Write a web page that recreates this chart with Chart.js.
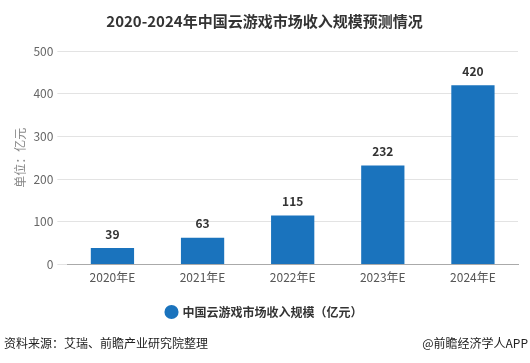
<!DOCTYPE html>
<html>
<head>
<meta charset="utf-8">
<script src="https://cdn.jsdelivr.net/npm/chart.js@4.4.0/dist/chart.umd.min.js"></script>
<style>
  html, body { margin: 0; padding: 0; background: #fff; }
  #wrap { position: relative; width: 530px; height: 363px; }
</style>
</head>
<body>
<div id="wrap"><canvas id="grafica"></canvas></div>
<script>
const etiquetas = ["2020年E", "2021年E", "2022年E", "2023年E", "2024年E"];
const ingresos = [39, 63, 115, 232, 420];
const ticksY = [0, 100, 200, 300, 400, 500];

const fuente = '"Microsoft YaHei", "Noto Sans CJK SC", sans-serif';

// etiquetas de valor encima de cada barra + pie de página
const extras = {
    id: 'extras',
    afterDatasetsDraw(chart) {
        const ctx = chart.ctx;
        const meta = chart.getDatasetMeta(0);
        ctx.save();
        ctx.font = 'bold 12px ' + fuente;
        ctx.fillStyle = '#333';
        ctx.textAlign = 'center';
        ctx.textBaseline = 'bottom';
        meta.data.forEach((barra, i) => {
            ctx.fillText(String(ingresos[i]), barra.x, barra.y - 8);
        });
        ctx.font = '12px ' + fuente;
        ctx.fillStyle = '#222';
        ctx.textBaseline = 'middle';
        ctx.textAlign = 'left';
        ctx.fillText('资料来源：艾瑞、前瞻产业研究院整理', 4, 343);
        ctx.textAlign = 'right';
        ctx.fillText('@前瞻经济学人APP', 528, 343);
        ctx.restore();
    }
};

new Chart(document.querySelector('#grafica'), {
    type: 'bar',
    data: {
        labels: etiquetas,
        datasets: [{
            label: '中国云游戏市场收入规模（亿元）',
            data: ingresos,
            backgroundColor: '#1a73bd',
            barPercentage: 0.48,
            categoryPercentage: 1
        }]
    },
    options: {
        responsive: true,
        maintainAspectRatio: false,
        animation: false,
        layout: { padding: { left: 11, right: 12, top: 0, bottom: 35 } },
        plugins: {
            title: {
                display: true,
                text: '2020-2024年中国云游戏市场收入规模预测情况',
                font: { size: 15, weight: 'bold', family: fuente },
                color: '#333',
                padding: { top: 12, bottom: 21 }
            },
            legend: {
                position: 'bottom',
                labels: {
                    usePointStyle: true,
                    pointStyle: 'circle',
                    boxWidth: 10,
                    boxHeight: 10,
                    color: '#333',
                    font: { size: 12, weight: 'bold', family: fuente },
                    padding: 15
                }
            },
            tooltip: { enabled: false }
        },
        scales: {
            x: {
                grid: { display: false, drawTicks: false },
                border: { color: '#aaa' },
                ticks: { color: '#555', font: { size: 12, family: fuente }, padding: 6 }
            },
            y: {
                min: 0,
                max: 500,
                afterBuildTicks(axis) { axis.ticks = ticksY.map(v => ({ value: v })); },
                grid: { color: '#e3e3e3', tickLength: 10 },
                border: { display: false },
                ticks: { color: '#666', font: { size: 12, family: fuente }, padding: 4 },
                title: {
                    display: true,
                    text: '单位：亿元',
                    color: '#888',
                    font: { size: 12, family: fuente },
                    padding: 2
                }
            }
        }
    },
    plugins: [extras]
});
</script>
</body>
</html>
